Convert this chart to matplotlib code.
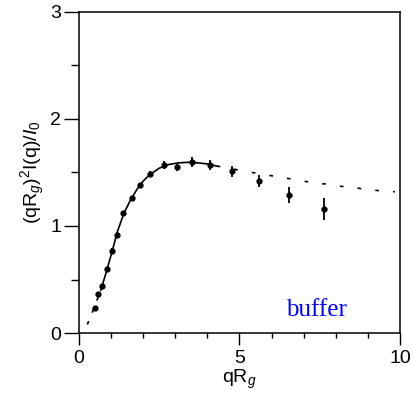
import numpy as np
import matplotlib
matplotlib.use('Agg')
import matplotlib.pyplot as plt
from matplotlib.ticker import MultipleLocator

# measured points: qRg, (qRg)^2 I(q)/I0 and error
qrg = [0.50, 0.60, 0.71, 0.86, 1.02, 1.17, 1.38, 1.64, 1.90, 2.21,
       2.64, 3.04, 3.52, 4.09, 4.77, 5.60, 6.53, 7.63]
kratky = [0.23, 0.36, 0.44, 0.60, 0.77, 0.92, 1.12, 1.26, 1.38, 1.49,
          1.57, 1.55, 1.60, 1.57, 1.51, 1.42, 1.29, 1.16]
err = [0.02, 0.02, 0.02, 0.02, 0.02, 0.02, 0.02, 0.02, 0.02, 0.025,
       0.035, 0.04, 0.047, 0.047, 0.05, 0.058, 0.075, 0.10]

# fit curve, solid part (fitted range)
fit_x = [0.68, 0.86, 1.02, 1.2, 1.4, 1.6, 1.8, 2.0, 2.2, 2.5, 2.8,
         3.1, 3.4, 3.7, 4.0, 4.29]
fit_y = [0.40, 0.58, 0.75, 0.95, 1.12, 1.24, 1.34, 1.42, 1.48, 1.54,
         1.575, 1.59, 1.595, 1.59, 1.58, 1.56]
# fit curve, extrapolated parts
low_x = [0.26, 0.45, 0.68]
low_y = [0.08, 0.22, 0.40]
high_x = [4.29, 4.6, 5.02, 5.40, 5.79, 6.19, 6.6, 6.99, 7.38, 7.78,
          8.18, 8.57, 8.96, 9.36, 9.84]
high_y = [1.56, 1.545, 1.52, 1.50, 1.48, 1.46, 1.44, 1.42, 1.40, 1.39,
          1.37, 1.36, 1.34, 1.33, 1.32]

plt.rcParams['font.family'] = ['Liberation Sans', 'DejaVu Sans']
plt.rcParams['mathtext.fontset'] = 'custom'
plt.rcParams['mathtext.rm'] = 'Liberation Sans'
plt.rcParams['mathtext.it'] = 'Liberation Sans:italic'

fig = plt.figure(figsize=(4.14, 4.09), dpi=100)
ax = fig.add_axes([0.1908, 0.1858, 0.9662 - 0.1908, 0.9707 - 0.1858])

ax.plot(fit_x, fit_y, c='k', lw=1.2)
ax.plot(low_x, low_y, c='k', lw=1.2, dashes=(2.2, 5.5))
ax.plot(high_x, high_y, c='k', lw=1.2, dashes=(2.2, 8.5))
ax.errorbar(qrg, kratky, yerr=err, fmt='o', c='k', ms=3.5,
            elinewidth=1.3, capsize=0)

ax.text(7.4, 0.16, 'buffer', color='#0000ff', fontsize=18,
        family=['Liberation Serif', 'DejaVu Serif'], ha='center')

ax.set_xlim(0, 10)
ax.set_ylim(0, 3)
ax.xaxis.set_major_locator(MultipleLocator(5))
ax.xaxis.set_minor_locator(MultipleLocator(1))
ax.yaxis.set_major_locator(MultipleLocator(1))
ax.yaxis.set_minor_locator(MultipleLocator(0.5))
ax.tick_params(which='major', axis='x', length=8.5, width=1, labelsize=14)
ax.tick_params(which='minor', axis='x', length=3.6, width=1)
ax.tick_params(which='major', axis='y', length=11, width=1, labelsize=14,
               pad=2)
ax.tick_params(which='minor', axis='y', length=5.5, width=1)
for s in ax.spines.values():
    s.set_linewidth(1.1)

ax.set_xlabel('qR$_{g}$', fontsize=14, labelpad=1)
ax.set_ylabel('(qR$_{g}$)$^{2}$I(q)/$I_{0}$', fontsize=14, labelpad=2)

fig.savefig('out.png', dpi=100)
